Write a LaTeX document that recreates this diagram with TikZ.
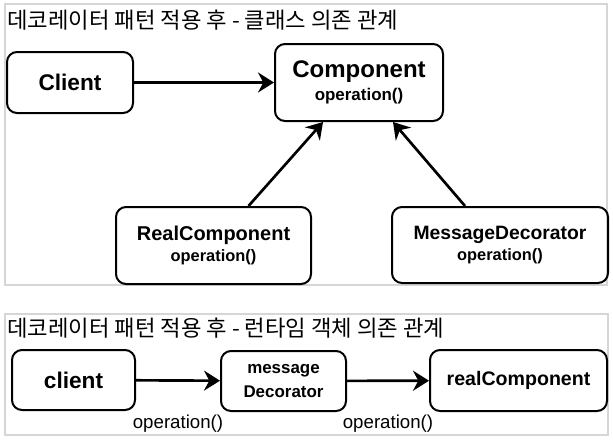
\documentclass[tikz,border=0pt]{standalone}
\usepackage{fontspec}
\setmainfont{Liberation Sans}
\newfontfamily\kofont{Noto Sans CJK KR}
\usetikzlibrary{arrows.meta}
\definecolor{framegray}{RGB}{214,214,214}
\begin{document}
\begin{tikzpicture}[x=0.75pt,y=-0.75pt,
  box/.style={draw,line width=1.5pt,rounded corners=7.5pt,align=center,inner sep=0pt},
  ttl/.style={anchor=west,inner sep=0pt,font=\kofont\fontsize{16.7}{20}\selectfont},
  pan/.style={draw=framegray,line width=0.8pt},
  ed/.style={-{Stealth[length=12pt,width=15pt,inset=4pt]},line width=2pt},
  lbl/.style={font=\fontsize{14}{16}\selectfont,inner sep=0pt}]
\useasboundingbox (0,0) rectangle (613,440);
% class dependencies
\draw[pan] (5,4) rectangle (607,285);
\node[ttl] (t1) at (7,20) {데코레이터 패턴 적용 후 - 클래스 의존 관계};
\node[box,minimum width=94.5pt,minimum height=45.75pt,font=\bfseries\fontsize{17}{20}\selectfont] (cl) at (70,82.5) {Client};
\node[box,minimum width=126pt,minimum height=57.75pt,font=\bfseries\fontsize{12.7}{17.25}\selectfont] (cmp) at (359,82.5)
  {{\fontsize{18}{20}\selectfont Component}\\operation()};
\node[box,minimum width=146.25pt,minimum height=57.75pt,font=\bfseries\fontsize{12.3}{15.5}\selectfont] (rc) at (213.5,245.5)
  {{\fontsize{15}{18}\selectfont RealComponent}\\operation()};
\node[box,minimum width=162pt,minimum height=57pt,font=\bfseries\fontsize{12.3}{15.5}\selectfont] (md) at (500,245)
  {{\fontsize{14.5}{18}\selectfont MessageDecorator}\\operation()};
\draw[ed] (cl) -- (cmp);
\draw[ed] ([xshift=26.25pt]rc.north) -- ([xshift=-27pt]cmp.south);
\draw[ed] ([xshift=-26.25pt]md.north) -- ([xshift=25.5pt]cmp.south);
% runtime objects
\draw[pan] (5,314) rectangle (608,435);
\node[ttl] (t2) at (7,328) {데코레이터 패턴 적용 후 - 런타임 객체 의존 관계};
\node[box,minimum width=92.25pt,minimum height=45pt,font=\bfseries\fontsize{17}{20}\selectfont] (ocl) at (73.5,380) {client};
\node[box,minimum width=93.75pt,minimum height=45pt,font=\bfseries\fontsize{12.7}{18.5}\selectfont] (omd) at (283.5,381)
  {message\\Decorator};
\node[box,minimum width=132.75pt,minimum height=45.75pt,font=\bfseries\fontsize{14.7}{18}\selectfont] (orc) at (518.5,380.5) {realComponent};
\draw[ed] (ocl) -- node[lbl,yshift=-32pt] (op1) {operation()} (omd);
\draw[ed] (omd) -- node[lbl,yshift=-32pt] (op2) {operation()} (orc);
\end{tikzpicture}
\end{document}
